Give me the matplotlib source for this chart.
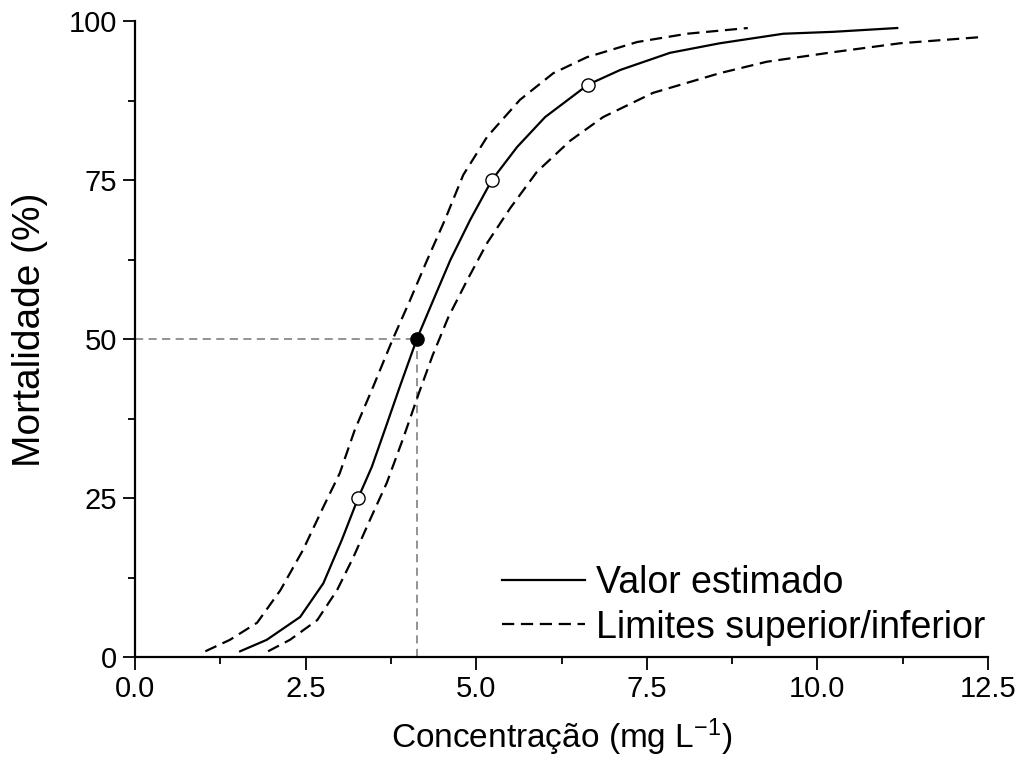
import matplotlib.pyplot as plt
from matplotlib.ticker import MultipleLocator

plt.rcParams["font.family"] = ["Liberation Sans", "DejaVu Sans"]
plt.rcParams["mathtext.default"] = "regular"

# Curve values
est_x = [1.54, 1.93, 2.42, 2.76, 3.03, 3.27, 3.47, 3.66, 3.88, 4.13, 4.37, 4.62,
         4.91, 5.23, 5.60, 6.01, 6.64, 7.11, 7.84, 8.57, 9.50, 10.23, 11.17]
est_y = [0.9, 2.7, 6.3, 11.6, 18.4, 25.0, 29.9, 35.7, 42.5, 50.0, 56.1, 62.4,
         68.7, 75.0, 80.2, 84.9, 90.0, 92.3, 95.0, 96.5, 98.0, 98.3, 98.9]

sup_x = [1.03, 1.39, 1.79, 2.13, 2.46, 2.76, 3.00, 3.22, 3.49, 3.77, 4.03, 4.28,
         4.54, 4.81, 5.16, 5.64, 6.13, 6.62, 7.36, 8.09, 8.98]
sup_y = [0.9, 2.7, 5.4, 10.5, 16.8, 23.6, 28.9, 35.7, 42.5, 49.8, 56.1, 62.4,
         68.7, 75.8, 81.8, 87.6, 91.8, 94.3, 96.7, 98.0, 98.9]

inf_x = [1.95, 2.27, 2.67, 2.96, 3.20, 3.44, 3.69, 3.93, 4.16, 4.36, 4.59, 4.87,
         5.16, 5.50, 5.89, 6.38, 6.86, 7.59, 8.57, 9.26, 10.23, 11.21, 12.43]
inf_y = [0.9, 2.7, 5.8, 10.5, 15.7, 21.5, 27.4, 34.4, 41.5, 47.4, 53.4, 59.3,
         65.1, 70.6, 76.3, 81.2, 84.9, 88.7, 91.8, 93.6, 95.1, 96.5, 97.5]

# Estimated lethal concentrations: LC25, LC75, LC90 (open) and LC50 (filled)
lc_x = [3.27, 5.23, 6.64]
lc_y = [25, 75, 90]
lc50_x, lc50_y = 4.13, 50

fig = plt.figure(figsize=(10.2, 7.67), dpi=100)
ax = fig.add_axes([0.1324, 0.1434, 0.8362, 0.8292])

# reference lines for LC50
ax.plot([0, lc50_x], [lc50_y, lc50_y], color="#8a8a8a", lw=1.3, dashes=(4.5, 3), zorder=1)
ax.plot([lc50_x, lc50_x], [0, lc50_y], color="#8a8a8a", lw=1.3, dashes=(4.5, 3), zorder=1)

ax.plot(est_x, est_y, color="black", lw=1.6, label="Valor estimado", zorder=2)
ax.plot(sup_x, sup_y, color="black", lw=1.6, dashes=(5.5, 3),
        label="Limites superior/inferior", zorder=2)
ax.plot(inf_x, inf_y, color="black", lw=1.6, dashes=(5.5, 3), zorder=2)

ax.plot(lc_x, lc_y, "o", ms=9.5, mfc="white", mec="black", mew=1.0, zorder=3)
ax.plot([lc50_x], [lc50_y], "o", ms=9.5, mfc="black", mec="black", zorder=3)

ax.set_xlim(0, 12.5)
ax.set_ylim(0, 100)
ax.spines["top"].set_visible(False)
ax.spines["right"].set_visible(False)
for s in ["left", "bottom"]:
    ax.spines[s].set_linewidth(1.6)

ax.xaxis.set_major_locator(MultipleLocator(2.5))
ax.xaxis.set_minor_locator(MultipleLocator(1.25))
ax.yaxis.set_major_locator(MultipleLocator(25))
ax.yaxis.set_minor_locator(MultipleLocator(12.5))
ax.set_xticks([0, 2.5, 5, 7.5, 10, 12.5], ["0.0", "2.5", "5.0", "7.5", "10.0", "12.5"])
ax.tick_params(which="major", direction="out", length=9, width=1.3, labelsize=21, pad=4)
ax.tick_params(which="minor", direction="out", length=5, width=1.3)

ax.set_xlabel("Concentração (mg L$^{-1}$)", fontsize=24, labelpad=10)
ax.set_ylabel("Mortalidade (%)", fontsize=28)
ax.yaxis.set_label_coords(-0.102, 0.514)

ax.legend(loc="lower right", bbox_to_anchor=(0.997, 0.018), frameon=False,
          fontsize=27, handlelength=2.2, handletextpad=0.3, labelspacing=0.22,
          borderpad=0, borderaxespad=0)

fig.savefig("out.png", dpi=100)
